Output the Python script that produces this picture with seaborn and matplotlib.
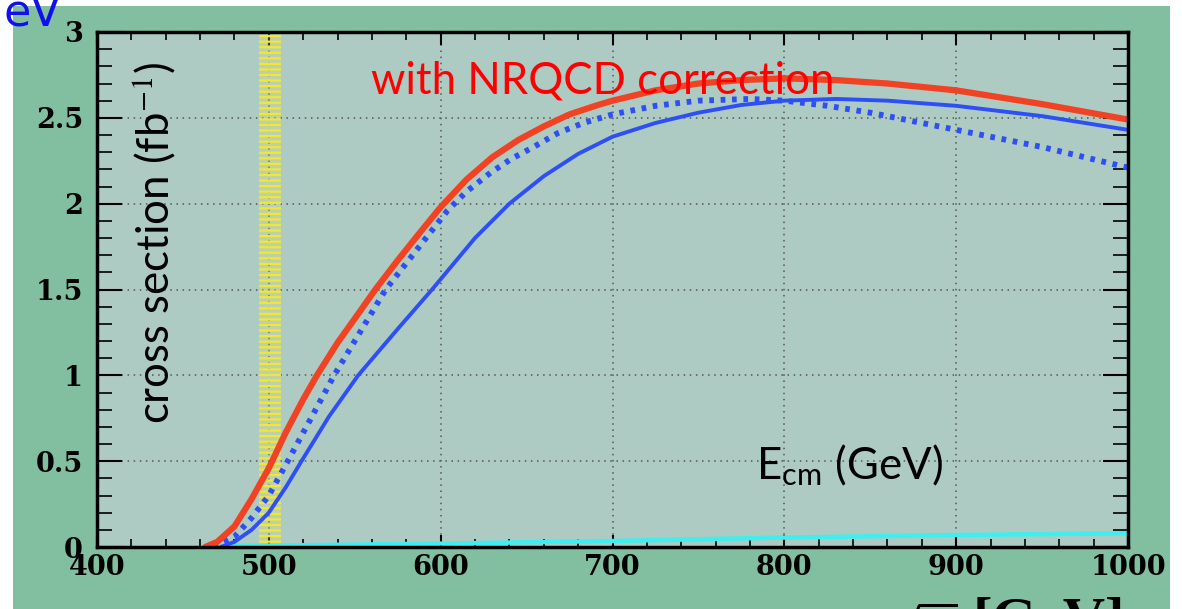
import numpy as np
import pandas as pd
import matplotlib
matplotlib.use("Agg")
import matplotlib.pyplot as plt
from matplotlib.patches import Rectangle
from matplotlib.ticker import MultipleLocator
import seaborn as sns

# ---- data ----
red_E = [463, 470, 480, 490, 500, 510, 520, 528, 540, 550, 562, 575, 587, 600, 615, 630, 645, 660, 675, 690,
         700, 725, 750, 775, 800, 830, 860, 900, 950, 1000]
red_xs = [0.0, 0.03, 0.12, 0.28, 0.46, 0.67, 0.86, 1.0, 1.19, 1.33, 1.5, 1.67, 1.82, 1.98, 2.14, 2.27, 2.37, 2.45, 2.52, 2.57,
          2.6, 2.66, 2.70, 2.72, 2.73, 2.72, 2.70, 2.66, 2.58, 2.49]

dot_E = [468, 480, 490, 500, 511, 524, 538, 553, 568, 586, 604, 615, 629, 641, 654, 668, 683, 700, 725, 750,
         780, 800, 825, 850, 875, 900, 925, 950, 975, 1000]
dot_xs = [0.0, 0.06, 0.17, 0.3, 0.5, 0.74, 1.0, 1.25, 1.5, 1.73, 1.96, 2.07, 2.18, 2.26, 2.33, 2.41, 2.47, 2.52, 2.57, 2.60,
          2.61, 2.6, 2.57, 2.53, 2.48, 2.43, 2.38, 2.33, 2.27, 2.21]

sol_E = [472, 480, 490, 500, 510, 519, 535, 552, 575, 595, 620, 640, 660, 680, 700, 725, 750, 775, 800, 830,
         860, 900, 950, 1000]
sol_xs = [0.0, 0.03, 0.1, 0.2, 0.35, 0.5, 0.76, 1.0, 1.27, 1.5, 1.8, 2.0, 2.16, 2.29, 2.39, 2.47, 2.53, 2.575, 2.6, 2.61,
          2.6, 2.57, 2.51, 2.43]

cyan_E = [472, 600, 700, 800, 900, 1000]
cyan_xs = [0.005, 0.02, 0.035, 0.055, 0.07, 0.08]

band_lo, band_hi = 494, 507
x_ticks = [400, 500, 600, 700, 800, 900, 1000]
y_ticks = [0, 0.5, 1, 1.5, 2, 2.5, 3]
y_tick_labels = ["0", "0.5", "1", "1.5", "2", "2.5", "3"]

sns.set_style("ticks")
plt.rcParams["font.family"] = ["Lato", "DejaVu Sans"]
plt.rcParams["mathtext.fontset"] = "stix"
plt.rcParams["hatch.linewidth"] = 1.6

W, H = 1182, 609
fig = plt.figure(figsize=(W / 100, H / 100), dpi=100, facecolor="white")
fig.patches.append(Rectangle((13 / W, 0), (1170 - 13) / W, 1 - 6 / H, transform=fig.transFigure,
                             facecolor="#82bea0", edgecolor="none", zorder=-10))
ax = fig.add_axes([97 / W, 1 - 547 / H, (1128 - 97) / W, (547 - 32) / H])
ax.set_zorder(1)
ax.set_facecolor("#aecbc3")

# yellow band
ax.axvspan(band_lo, band_hi, facecolor="#e8e070", alpha=0.25, edgecolor="none", zorder=1)
ax.axvspan(band_lo, band_hi, facecolor="none", edgecolor="#f2e830", hatch="---", linewidth=0, zorder=1.5)

df_red = pd.DataFrame({"E": red_E, "xs": red_xs})
df_dot = pd.DataFrame({"E": dot_E, "xs": dot_xs})
df_sol = pd.DataFrame({"E": sol_E, "xs": sol_xs})
df_cy = pd.DataFrame({"E": cyan_E, "xs": cyan_xs})

sns.lineplot(data=df_cy, x="E", y="xs", ax=ax, color="#40eef0", lw=3.2, zorder=3)
sns.lineplot(data=df_sol, x="E", y="xs", ax=ax, color="#2d4ff5", lw=2.8, zorder=4)
sns.lineplot(data=df_dot, x="E", y="xs", ax=ax, color="#2d4ff5", lw=4.2, linestyle=(0, (0.8, 1.15)), zorder=4)
sns.lineplot(data=df_red, x="E", y="xs", ax=ax, color="#f24224", lw=4.5, zorder=5)

ax.set_xlim(400, 1000)
ax.set_ylim(0, 3)
ax.set_xticks(x_ticks)
ax.set_yticks(y_ticks)
ax.set_yticklabels(y_tick_labels)
ax.xaxis.set_minor_locator(MultipleLocator(20))
ax.yaxis.set_minor_locator(MultipleLocator(0.1))
ax.grid(True, which="major", color="#555555", linestyle=(0, (1, 3)), linewidth=1.1)
ax.set_axisbelow(True)
for s in ax.spines.values():
    s.set_linewidth(2.5)
    s.set_color("black")
    s.set_zorder(6)

for lab in ax.get_xticklabels() + ax.get_yticklabels():
    lab.set_fontfamily("DejaVu Serif")
    lab.set_fontweight("bold")
    lab.set_fontsize(19.5)
ax.tick_params(axis="both", which="both", direction="in", top=True, right=True, colors="black")
ax.tick_params(axis="y", which="major", length=18, width=1.5, pad=10)
ax.tick_params(axis="y", which="minor", length=11, width=1.2)
ax.tick_params(axis="x", which="major", length=9, width=1.5, pad=5)
ax.tick_params(axis="x", which="minor", length=6, width=1.2)
ax.set_xlabel("")
ax.set_ylabel("")

# annotations
ax.text(0.056, 0.59, "cross section (fb$^{-1}$)", transform=ax.transAxes, rotation=90,
        ha="center", va="center", fontsize=31.5, color="black", family=["Lato", "DejaVu Sans"], zorder=7)
ax.text(0.491, 0.905, "with NRQCD correction", transform=ax.transAxes, ha="center", va="center",
        fontsize=31.5, color="#ff0000", family=["Lato", "DejaVu Sans"], zorder=7)
ax.text(0.730, 0.159, "E$_{\\mathregular{cm}}$ (GeV)", transform=ax.transAxes, ha="center", va="center",
        fontsize=31.5, color="black", family=["Lato", "DejaVu Sans"], zorder=7)

fig.text(3 / W, 1 - 26 / H, "eV", color="#1010ee", fontsize=32, family="DejaVu Sans", ha="left", va="baseline")
fig.text(957 / W, 1 - 599 / H, r"$\sqrt{s}$", color="black", fontsize=42, ha="right", va="top")
fig.text(973 / W, 1 - 597 / H, "[GeV]", color="black", fontsize=42,
         family="Liberation Serif", weight="bold", ha="left", va="top")

fig.savefig("out.png", dpi=100, facecolor="white")
